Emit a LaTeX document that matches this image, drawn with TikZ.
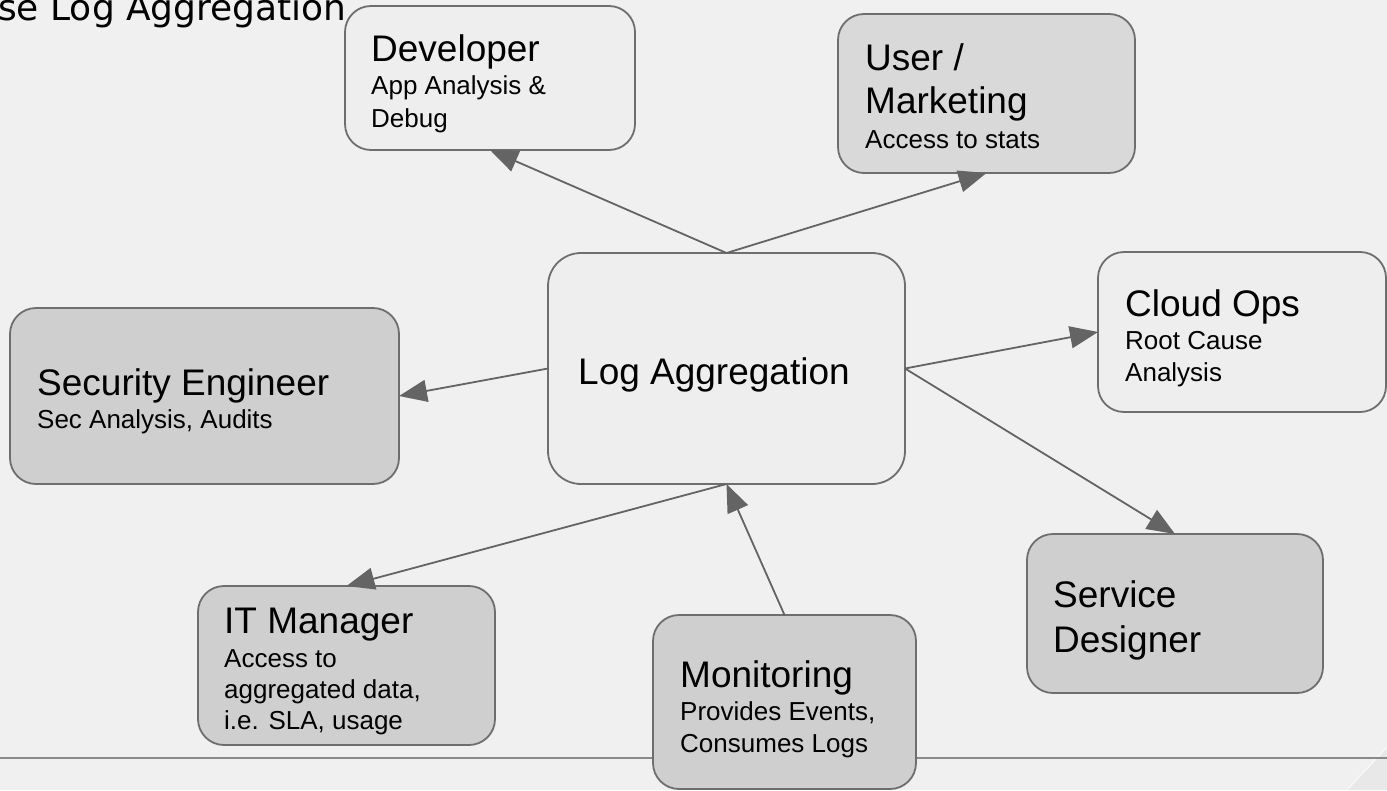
\documentclass[tikz,border=0pt]{standalone}
\usepackage{fontspec}
\setmainfont{Liberation Sans}
\newfontfamily\dejavu{DejaVu Sans}
\usetikzlibrary{arrows.meta}
\definecolor{bgc}{HTML}{F0F0F0}
\definecolor{lightbox}{HTML}{EEEEEE}
\definecolor{darkbox}{HTML}{CFCFCF}
\definecolor{midbox}{HTML}{D9D9D9}
\definecolor{edgec}{HTML}{6E6E6E}
\definecolor{arrc}{HTML}{646464}
\definecolor{rulec}{HTML}{8A8A8A}
\tikzset{
  box/.style={draw=edgec, line width=1.8pt, rounded corners=26pt, inner sep=0pt, outer sep=0pt},
  bigbox/.style={box, rounded corners=33pt},
  ttl/.style={anchor=base west, inner sep=0pt, font=\fontsize{37}{43}\selectfont, text=black},
  sub/.style={anchor=base west, inner sep=0pt, font=\fontsize{26}{31}\selectfont, text=black},
  arr/.style={draw=arrc, line width=1.8pt, -{Triangle[length=28pt,width=22pt]}, fill=arrc},
}
\begin{document}
\begin{tikzpicture}[x=1pt, y=-1pt]
\useasboundingbox (0,0) rectangle (1387,790);
\clip (0,0) rectangle (1387,790);
\fill[bgc] (0,0) rectangle (1387,790);
% bottom-right decoration
\fill[fill=black!9] (1347,790) -- (1387,747) -- (1387,790) -- cycle;
\draw[white, opacity=0.7, line width=1.2pt] (1347,790) -- (1387,747);
% rule
\draw[rulec, line width=1.5pt] (0,758) coordinate (rl) -- (1387,758) coordinate (rr);
% title
\node[anchor=base west, inner sep=0pt, font=\dejavu\fontsize{36}{40}\selectfont] (title) at (-2,20) {se Log Aggregation};

% boxes
\node[box, fill=lightbox, minimum width=290pt, minimum height=144pt] (dev) at (490,78) {};
\node[box, fill=midbox, minimum width=297pt, minimum height=159pt] (user) at (986.5,93.5) {};
\node[box, fill=lightbox, minimum width=288pt, minimum height=160pt] (cloud) at (1242,332) {};
\node[box, fill=darkbox, minimum width=389pt, minimum height=176pt] (sec) at (204.5,396) {};
\node[bigbox, fill=lightbox, minimum width=357pt, minimum height=231pt] (log) at (726.5,368.5) {};
\node[box, fill=darkbox, minimum width=297pt, minimum height=159pt] (it) at (346.5,665.5) {};
\node[box, fill=darkbox, minimum width=263pt, minimum height=174pt] (mon) at (784.5,702) {};
\node[box, fill=darkbox, minimum width=296pt, minimum height=159pt] (svc) at (1175,613.5) {};

% texts
\node[ttl] (devA) at (371,61) {Developer};
\node[sub] (devB) at (371,94) {App Analysis \&};
\node[sub] (devC) at (371,127) {Debug};

\node[ttl] (userA) at (865,70) {User /};
\node[ttl] (userB) at (865,113) {Marketing};
\node[sub] (userC) at (865,148) {Access to stats};

\node[ttl] (cloudA) at (1125,316) {Cloud Ops};
\node[sub] (cloudB) at (1125,349) {Root Cause};
\node[sub] (cloudC) at (1125,381) {Analysis};

\node[ttl] (secA) at (37,395) {Security Engineer};
\node[sub] (secB) at (37,428) {Sec Analysis, Audits};

\node[ttl] (logA) at (578,384) {Log Aggregation};

\node[ttl] (itA) at (224,633) {IT Manager};
\node[sub] (itB) at (224,667) {Access to};
\node[sub] (itC) at (224,698) {aggregated data,};
\node[sub] (itD) at (224,729) {i.e. SLA, usage};

\node[ttl] (monA) at (680,687) {Monitoring};
\node[sub] (monB) at (680,720) {Provides Events,};
\node[sub] (monC) at (680,752) {Consumes Logs};

\node[ttl] (svcA) at (1053,607) {Service};
\node[ttl] (svcB) at (1053,652) {Designer};

% connectors
\draw[arr] (log.north) -- (dev.south);
\draw[arr] (log.north) -- (user.south);
\draw[arr] (log.west) -- (sec.east);
\draw[arr] (log.east) -- (cloud.west);
\draw[arr] (log.east) -- (svc.north);
\draw[arr] (log.south) -- (it.north);
\draw[arr] (mon.north) -- (log.south);
\end{tikzpicture}
\end{document}
